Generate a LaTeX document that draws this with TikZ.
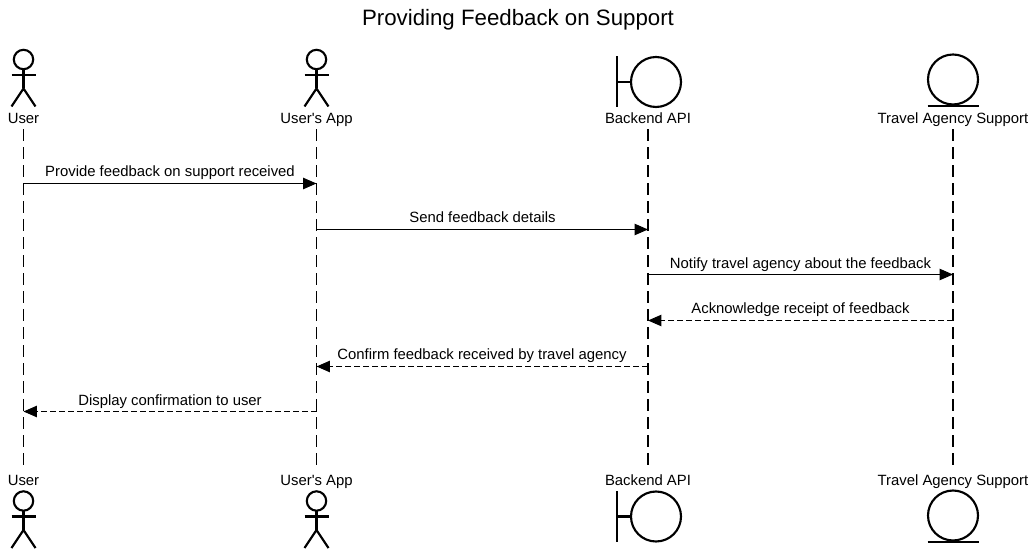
\documentclass[tikz,border=0pt]{standalone}
\usepackage{fontspec}
\setmainfont{Liberation Sans}
\usetikzlibrary{arrows.meta}
\tikzset{
  px/.style={x=0.75pt,y=-0.75pt},
  icon/.style={line width=1.6pt,draw=black},
  lbl/.style={font=\fontsize{11.15pt}{13pt}\selectfont,inner sep=0pt,text height=8pt,text depth=2.5pt,text=black},
  toplabel/.style={lbl,minimum height=13pt},
  botlabel/.style={lbl,minimum height=26pt},
  msglabel/.style={lbl},
  lifeline/.style={line width=0.8pt,draw=black,dash pattern=on 9pt off 4.5pt},
  msg/.style={line width=0.8pt,draw=black,-{Triangle[length=10pt,width=8.5pt]}},
  reply/.style={msg,dash pattern=on 4.5pt off 2.25pt},
  titlelabel/.style={font=\fontsize{16.7pt}{20pt}\selectfont,inner sep=0pt},
}
\newcommand{\actorfig}[2]{%
  \draw[icon] (#1,#2) circle (9.7);
  \draw[icon] (#1,#2+10) -- (#1,#2+29);
  \draw[icon] (#1-12,#2+15.5) -- (#1+12,#2+15.5);
  \draw[icon] (#1-12,#2+47) -- (#1,#2+29) -- (#1+12,#2+47);
}
\newcommand{\boundaryfig}[2]{%
  \draw[icon] (#1-39,#2-25.5) -- (#1-39,#2+25.5);
  \draw[icon] (#1-39,#2) -- (#1-25,#2);
  \draw[icon] (#1,#2) circle (25);
}
\newcommand{\entityfig}[2]{%
  \draw[icon] (#1,#2) circle (25);
  \draw[icon] (#1-25.5,#2+26.5) -- (#1+25.5,#2+26.5);
}
\begin{document}
\begin{tikzpicture}[px]
\useasboundingbox (0,0) rectangle (1035,559);
\node[titlelabel] (title) at (518,20) {Providing Feedback on Support};

\node[toplabel] (ut) at (23.5,120.3) {User};
\node[toplabel] (at) at (316.5,120.3) {User\textquotesingle s App};
\node[toplabel] (bt) at (648,120.3) {Backend API};
\node[toplabel] (tt) at (953,120.3) {Travel Agency Support};
\node[botlabel] (ub) at (23.5,482.3) {User};
\node[botlabel] (ab) at (316.5,482.3) {User\textquotesingle s App};
\node[botlabel] (bb) at (648,482.3) {Backend API};
\node[botlabel] (tb) at (953,482.3) {Travel Agency Support};

\draw[lifeline] (ut.south) -- (ub.north);
\draw[lifeline] (at.south) -- (ab.north);
\draw[lifeline] (bt.south) -- (bb.north);
\draw[lifeline] (tt.south) -- (tb.north);

\actorfig{23.5}{59.5}
\actorfig{316.5}{59.5}
\boundaryfig{656}{82}
\entityfig{953}{79.5}
\actorfig{23.5}{501}
\actorfig{316.5}{501}
\boundaryfig{656}{516.5}
\entityfig{953}{515.5}

\coordinate (u1) at (23.5,183.5);  \coordinate (a1) at (316.5,183.5);
\coordinate (a2) at (316.5,229.5); \coordinate (b2) at (648,229.5);
\coordinate (b3) at (648,274.5);   \coordinate (t3) at (953,274.5);
\coordinate (t4) at (953,320.5);   \coordinate (b4) at (648,320.5);
\coordinate (b5) at (648,366.5);   \coordinate (a5) at (316.5,366.5);
\coordinate (a6) at (316.5,411.5); \coordinate (u6) at (23.5,411.5);

\draw[msg] (u1) -- (a1);
\draw[msg] (a2) -- (b2);
\draw[msg] (b3) -- (t3);
\draw[reply] (t4) -- (b4);
\draw[reply] (b5) -- (a5);
\draw[reply] (a6) -- (u6);

\node[msglabel] (l1) at (170,173.3) {Provide feedback on support received};
\node[msglabel] (l2) at (482.5,219.3) {Send feedback details};
\node[msglabel] (l3) at (800.5,265.3) {Notify travel agency about the feedback};
\node[msglabel] (l4) at (800.5,310.3) {Acknowledge receipt of feedback};
\node[msglabel] (l5) at (482,356.3) {Confirm feedback received by travel agency};
\node[msglabel] (l6) at (170,402.3) {Display confirmation to user};
\end{tikzpicture}
\end{document}
